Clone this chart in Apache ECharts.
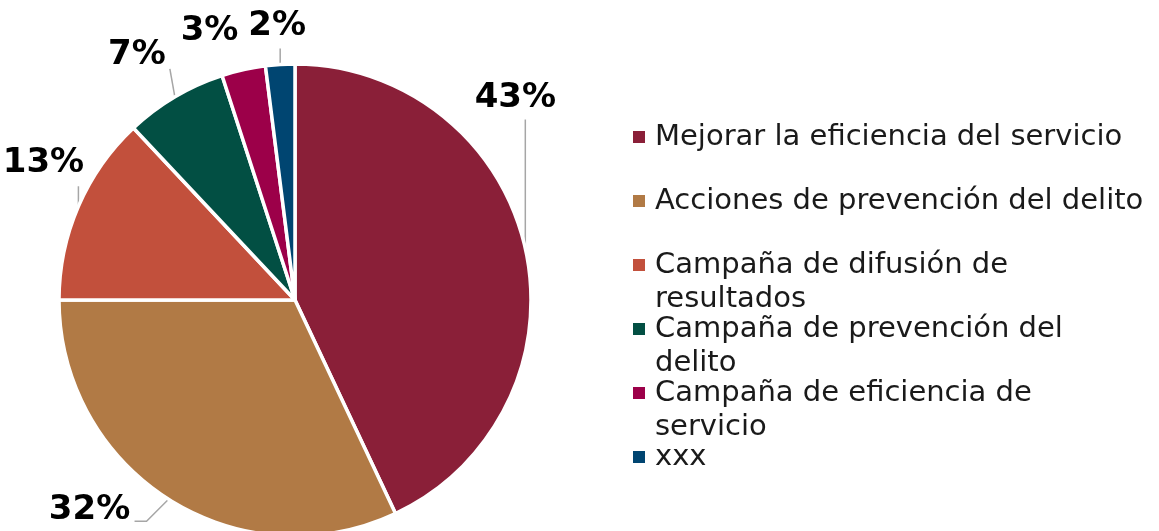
<!DOCTYPE html>
<html>
<head>
<meta charset="utf-8">
<script src="https://cdn.jsdelivr.net/npm/echarts@6/dist/echarts.min.js"></script>
<style>
  html, body { margin: 0; padding: 0; background: #ffffff; }
  #chart { width: 1159px; height: 531px; }
</style>
</head>
<body>
<div id="chart"></div>
<script>
// Categories, in drawing order (clockwise from 12 o'clock)
const categories = [
  'Mejorar la eficiencia del servicio',
  'Acciones de prevención del delito',
  'Campaña de difusión de resultados',
  'Campaña de prevención del delito',
  'Campaña de eficiencia de servicio',
  'xxx'
];
// Legend text, one array of lines per entry
const legendLines = [
  ['Mejorar la eficiencia del servicio'],
  ['Acciones de prevención del delito'],
  ['Campaña de difusión de', 'resultados'],
  ['Campaña de prevención del', 'delito'],
  ['Campaña de eficiencia de', 'servicio'],
  ['xxx']
];
// Share of each category, in percent
const shares = [43, 32, 13, 7, 3, 2];
const colors = ['#8A1F38', '#B17A45', '#C2503C', '#024F43', '#9C0049', '#004571'];

// Label offset and leader-line bends, relative to the slice's outer midpoint
const labelPlacement = [
  { label: [-10, -150], line: [[0, -129]] },
  { label: [-79, 11],   line: [[-22, 22], [-34, 22]] },
  { label: [-35, -43],  line: [[0, -20]] },
  { label: [-38, -42],  line: [[-5, -28]] },
  { label: [-34, -39],  line: [] },
  { label: [-3, -38],   line: [[0, -16]] }
];

const LINE_H = 34;   // legend line height
const SLOT = 64;     // distance between legend entries
const SWATCH = 12;   // legend swatch size

const chart = echarts.init(document.getElementById('chart'), null, { renderer: 'canvas' });

// Each legend entry is laid out as three lines (blank, first, second) so the
// swatch lines up with the first line and every entry takes the same slot.
function legendLabel(name) {
  const lines = legendLines[categories.indexOf(name)];
  return ['', lines[0], lines[1] || ''].join('\n');
}

chart.setOption({
  animation: false,
  color: colors,
  legend: {
    orient: 'vertical',
    left: 633,
    top: 137 - 1.5 * LINE_H,
    padding: 0,
    itemGap: SLOT - 3 * LINE_H,
    itemWidth: SWATCH,
    itemHeight: SWATCH,
    icon: 'rect',
    itemStyle: { borderWidth: 0 },
    selectedMode: false,
    data: categories,
    formatter: legendLabel,
    textStyle: {
      fontFamily: 'DejaVu Sans',
      fontSize: 29,
      lineHeight: LINE_H,
      padding: [0, 0, 0, 5],
      color: '#1a1a1a'
    }
  },
  series: [{
    type: 'pie',
    center: [295, 300],
    radius: 236,
    startAngle: 90,
    clockwise: true,
    silent: true,
    itemStyle: { borderColor: '#ffffff', borderWidth: 3.5 },
    label: {
      show: true,
      position: 'outside',
      formatter: '{c}%',
      overflow: 'none',
      fontFamily: 'DejaVu Sans',
      fontWeight: 'bold',
      fontSize: 34,
      color: '#000000'
    },
    labelLine: {
      show: true,
      length: 20,
      length2: 0,
      lineStyle: { color: '#A6A6A6', width: 1.5 }
    },
    labelLayout: function (params) {
      const place = labelPlacement[params.dataIndex];
      const pts = params.labelLinePoints;
      if (!pts || !pts.length) { return {}; }
      const e = pts[0];
      const line = [[e[0], e[1]]].concat(place.line.map(function (d) {
        return [e[0] + d[0], e[1] + d[1]];
      }));
      if (line.length === 1) { line.push([e[0], e[1]]); }
      return {
        x: e[0] + place.label[0],
        y: e[1] + place.label[1],
        align: 'center',
        verticalAlign: 'middle',
        labelLinePoints: line
      };
    },
    data: categories.map(function (name, i) { return { name: name, value: shares[i] }; })
  }]
});
</script>
</body>
</html>
